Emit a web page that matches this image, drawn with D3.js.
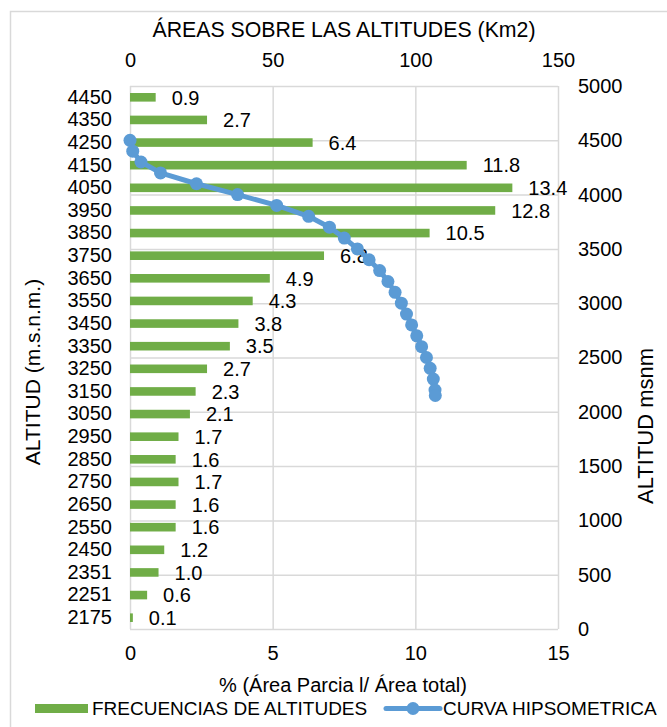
<!DOCTYPE html>
<html><head><meta charset="utf-8">
<script src="https://cdn.jsdelivr.net/npm/d3@7/dist/d3.min.js"></script>
<style>
html,body{margin:0;padding:0;background:#fff;}
svg text{font-family:"Liberation Sans",Arial,sans-serif;fill:#000;}
</style></head>
<body>
<svg id="chart" width="667" height="727"></svg>
<script>
// ---- data ----
const categories = ["4450","4350","4250","4150","4050","3950","3850","3750","3650","3550","3450","3350","3250","3150","3050","2950","2850","2750","2650","2550","2450","2351","2251","2175"];
const percentValues = [0.9,2.7,6.4,11.8,13.4,12.8,10.5,6.8,4.9,4.3,3.8,3.5,2.7,2.3,2.1,1.7,1.6,1.7,1.6,1.6,1.2,1.0,0.6,0.1];
const curveAltitudes = [4500,4400,4300,4200,4100,4000,3900,3800,3700,3600,3500,3400,3300,3200,3100,3000,2900,2800,2700,2600,2500,2400,2301,2201,2150];
const curveAreas = [0,0.96,3.85,10.7,23.3,37.7,51.4,62.6,69.9,75.1,79.7,83.8,87.5,90.4,92.9,95.1,96.9,98.7,100.5,102.2,103.9,105.2,106.3,106.9,107.0];
const bottomTicks = [0,5,10,15];
const topTicks = [0,50,100,150];
const rightTicks = [0,500,1000,1500,2000,2500,3000,3500,4000,4500,5000];

const svg = d3.select("#chart");
const L = 130, R = 558, T = 86, B = 629;
const grid = "#d9d9d9", green = "#70ad47", blue = "#5b9bd5";
const FS = 20;

// chart border
svg.append("rect").attr("x",10.5).attr("y",11.5).attr("width",700).attr("height",760)
  .attr("fill","none").attr("stroke",grid).attr("stroke-width",1.5);

const x = d3.scaleLinear().domain([0,15]).range([L,R]);
const xTop = d3.scaleLinear().domain([0,150]).range([L,R]);
const yAlt = d3.scaleLinear().domain([0,5000]).range([B,T]);
const yBand = d3.scaleBand().domain(categories).range([T,B]).paddingInner(0.62).paddingOuter(0.31);

// gridlines
const gv = svg.append("g").attr("transform",`translate(0,${B})`)
  .call(d3.axisBottom(xTop).tickValues(topTicks).tickSize(-(B-T)).tickFormat(""));
const gh = svg.append("g").attr("transform",`translate(${R},0)`)
  .call(d3.axisRight(yAlt).tickValues(rightTicks).tickSize(-(R-L)).tickFormat(""));
[gv,gh].forEach(g=>{g.select(".domain").remove();g.selectAll("line").attr("stroke",grid).attr("stroke-width",1.5);});

// bars
svg.append("g").selectAll("rect").data(categories).join("rect")
  .attr("x",x(0)).attr("y",d=>yBand(d))
  .attr("width",(d,i)=>x(percentValues[i])-x(0)).attr("height",yBand.bandwidth())
  .attr("fill",green);
// bar labels
svg.append("g").selectAll("text").data(categories).join("text")
  .attr("x",(d,i)=>x(percentValues[i])+16).attr("y",d=>yBand(d)+yBand.bandwidth()/2)
  .attr("dy","0.36em").attr("font-size",FS).text((d,i)=>d3.format(".1f")(percentValues[i]));

// curve
const pts = curveAltitudes.map((a,i)=>[curveAreas[i],a]);
svg.append("path").datum(pts)
  .attr("d",d3.line().x(d=>xTop(d[0])).y(d=>yAlt(d[1])))
  .attr("fill","none").attr("stroke",blue).attr("stroke-width",5).attr("stroke-linejoin","round");
svg.append("g").selectAll("circle").data(pts).join("circle")
  .attr("cx",d=>xTop(d[0])).attr("cy",d=>yAlt(d[1])).attr("r",6.5).attr("fill",blue);

// axes
function styleAxis(g){g.select(".domain").remove();g.selectAll("line").remove();g.selectAll("text").attr("font-size",FS).attr("fill","#000");}
svg.append("g").attr("transform",`translate(0,${T-16})`)
  .call(d3.axisTop(xTop).tickValues(topTicks).tickSize(0).tickFormat(d3.format("d"))).call(styleAxis);
svg.append("g").attr("transform",`translate(0,${B+14})`)
  .call(d3.axisBottom(x).tickValues(bottomTicks).tickSize(0).tickFormat(d3.format("d"))).call(styleAxis);
svg.append("g").attr("transform",`translate(${R+20},0)`)
  .call(d3.axisRight(yAlt).tickValues(rightTicks).tickSize(0).tickPadding(0).tickFormat(d3.format("d"))).call(styleAxis);
svg.append("g").attr("transform",`translate(${L-18},0)`)
  .call(d3.axisLeft(yBand).tickSize(0).tickPadding(0)).call(styleAxis);

// titles
svg.append("text").attr("x",(L+R)/2).attr("y",37).attr("text-anchor","middle").attr("font-size",21.3).text("ÁREAS SOBRE LAS ALTITUDES (Km2)");
svg.append("text").attr("x",343).attr("y",692).attr("text-anchor","middle").attr("font-size",FS).text("% (Área Parcia l/ Área total)");
svg.append("text").attr("transform",`translate(40,372) rotate(-90)`).attr("text-anchor","middle").attr("font-size",21).text("ALTITUD (m.s.n.m.)");
svg.append("text").attr("transform",`translate(653,426) rotate(-90)`).attr("text-anchor","middle").attr("font-size",22).text("ALTITUD msnm");

// legend
const lg = svg.append("g");
lg.append("rect").attr("x",35).attr("y",704).attr("width",53).attr("height",9).attr("fill",green);
lg.append("text").attr("x",92).attr("y",715).attr("font-size",19).text("FRECUENCIAS DE ALTITUDES");
lg.append("line").attr("x1",386).attr("x2",440).attr("y1",708.5).attr("y2",708.5).attr("stroke",blue).attr("stroke-width",5).attr("stroke-linecap","round");
lg.append("circle").attr("cx",413).attr("cy",708.5).attr("r",6.5).attr("fill",blue);
lg.append("text").attr("x",443).attr("y",715).attr("font-size",19).text("CURVA HIPSOMETRICA");
</script>
</body></html>
